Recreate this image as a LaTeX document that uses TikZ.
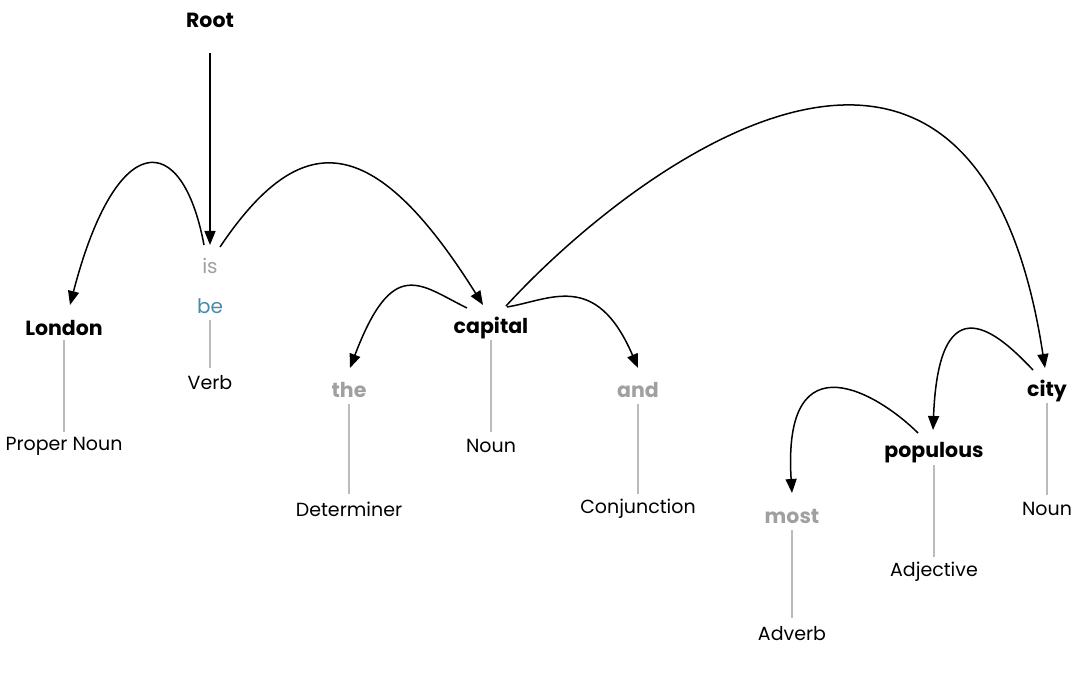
\documentclass[tikz,border=0pt]{standalone}
\usepackage{fontspec}
\setmainfont{Poppins}
\usetikzlibrary{arrows.meta}
\definecolor{lightword}{HTML}{A0A0A0}
\definecolor{lemma}{HTML}{4A8BAA}
\definecolor{stemgray}{HTML}{BBBBBB}
\begin{document}
\begin{tikzpicture}[x=1pt,y=-1pt,
  every node/.style={inner sep=0pt, anchor=center},
  head/.style={font=\fontsize{20.5}{22}\selectfont\bfseries, text=black},
  faint/.style={font=\fontsize{20.5}{22}\selectfont\bfseries, text=lightword},
  surface/.style={font=\fontsize{20}{22}\selectfont, text=lightword},
  lemmaword/.style={font=\fontsize{20}{22}\selectfont, text=lemma},
  tag/.style={font=\fontsize{19}{21}\selectfont, text=black},
  stem/.style={draw=stemgray, line width=1.1pt},
  dep/.style={draw=black, line width=1.5pt, -{Triangle[length=14pt,width=11pt]}}]
\useasboundingbox (0,0) rectangle (1080,674);
% words
\node[head] (root) at (210,20) {Root};
\node[surface] (is) at (210,266) {is};
\node[lemmaword] (be) at (210,306) {be};
\node[tag] (verb) at (210,383) {Verb};
\node[head] (london) at (64,328) {London};
\node[tag] (pn) at (64,446) {Proper Noun};
\node[faint] (the) at (349,390) {the};
\node[tag] (det) at (349,509) {Determiner};
\node[head] (capital) at (491,328) {capital};
\node[tag] (noun1) at (491,446) {Noun};
\node[faint] (and) at (638,390) {and};
\node[tag] (conj) at (638,509) {Conjunction};
\node[faint] (most) at (792,516) {most};
\node[tag] (adv) at (792,634) {Adverb};
\node[head] (populous) at (934,453) {populous};
\node[tag] (adj) at (934,572) {Adjective};
\node[head] (city) at (1047,391) {city};
\node[tag] (noun2) at (1047,509) {Noun};
% stems
\draw[stem] ([shift={(0,12)}]london.center) -- ([shift={(0,-14)}]pn.center);
\draw[stem] ([shift={(0,14)}]be.center) -- ([shift={(0,-15)}]verb.center);
\draw[stem] ([shift={(0,14)}]the.center) -- ([shift={(0,-15)}]det.center);
\draw[stem] ([shift={(0,12)}]capital.center) -- ([shift={(0,-14)}]noun1.center);
\draw[stem] ([shift={(0,14)}]and.center) -- ([shift={(0,-15)}]conj.center);
\draw[stem] ([shift={(0,14)}]most.center) -- ([shift={(0,-16)}]adv.center);
\draw[stem] ([shift={(0,12)}]populous.center) -- ([shift={(0,-15)}]adj.center);
\draw[stem] ([shift={(0,12)}]city.center) -- ([shift={(0,-14)}]noun2.center);
% dependencies
\draw[dep] ([shift={(0,33)}]root.center) -- ([shift={(0,-21)}]is.center);
\draw[dep] ([shift={(-6,-21)}]is.center) .. controls +(-22,-117) and +(46,-177) .. ([shift={(6,-23)}]london.center);
\draw[dep] ([shift={(10,-19)}]is.center) .. controls +(80,-119) and +(-111,-177) .. ([shift={(-8,-23)}]capital.center);
\draw[dep] ([shift={(-24,-20)}]capital.center) .. controls +(-47,-23) and +(43,-113) .. ([shift={(1,-22)}]the.center);
\draw[dep] ([shift={(16,-21)}]capital.center) .. controls +(43,-7) and +(-42,-98) .. ([shift={(0,-22)}]and.center);
\draw[dep] ([shift={(15,-22)}]capital.center) .. controls +(134,-146) and +(-69,-453) .. ([shift={(-2,-23)}]city.center);
\draw[dep] ([shift={(-14,-21)}]city.center) .. controls +(-33,-35) and +(6,-152) .. ([shift={(-1,-23)}]populous.center);
\draw[dep] ([shift={(-16,-20)}]populous.center) .. controls +(-38,-38) and +(-10,-159) .. ([shift={(0,-23)}]most.center);
\end{tikzpicture}
\end{document}
